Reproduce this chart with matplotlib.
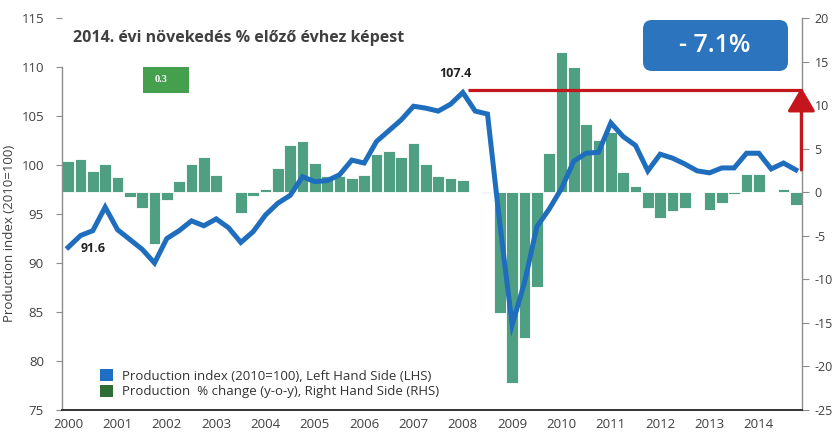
import matplotlib
matplotlib.use("Agg")
import matplotlib.pyplot as plt
from matplotlib.patches import FancyBboxPatch, Patch, FancyArrowPatch
from matplotlib.transforms import IdentityTransform

# ---------------- data ----------------
years = [str(y) for y in range(2000, 2015)]
quarters = [f"{y} Q{q}" for y in range(2000, 2015) for q in range(1, 5)]

production_index = [
    91.6, 92.8, 93.3, 95.7, 93.4, 92.4, 91.4, 90.0,
    92.5, 93.3, 94.3, 93.8, 94.5, 93.6, 92.1, 93.2,
    94.9, 96.1, 96.9, 98.8, 98.3, 98.4, 99.0, 100.5,
    100.2, 102.4, 103.5, 104.6, 106.0, 105.8, 105.5, 106.2,
    107.4, 105.5, 105.2, 94.0, 83.7, 88.0, 93.7, 95.5,
    97.6, 100.4, 101.2, 101.3, 104.3, 102.9, 102.0, 99.4,
    101.1, 100.7, 100.1, 99.4, 99.2, 99.7, 99.7, 101.2,
    101.2, 99.6, 100.2, 99.5,
]

yoy_change = [
    3.6, 3.8, 2.4, 3.2, 1.8, -0.5, -1.8, -5.9,
    -0.9, 1.3, 3.2, 4.1, 2.0, 0.0, -2.4, -0.4,
    0.4, 2.8, 5.4, 5.9, 3.4, 1.9, 1.9, 1.6,
    2.0, 4.4, 4.7, 4.0, 5.6, 3.2, 1.9, 1.6,
    1.4, 0.0, -0.1, -13.9, -21.9, -16.7, -10.9, 4.5,
    16.1, 14.4, 7.8, 6.0, 6.9, 2.3, 0.7, -1.8,
    -3.0, -2.2, -1.8, 0.0, -2.0, -1.2, -0.2, 2.1,
    2.1, 0.0, 0.4, -1.5,
]

title_text = "2014. évi növekedés % előző évhez képest"
box_text = "- 7.1%"
green_box_text = "0.3"
legend_labels = ["Production index (2010=100), Left Hand Side (LHS)",
                 "Production  % change (y-o-y), Right Hand Side (RHS)"]

# ---------------- style ----------------
plt.rcParams['font.family'] = ['Open Sans', 'DejaVu Sans']
plt.rcParams['axes.unicode_minus'] = False
txt_col = '#404040'
line_col = '#1F6EBE'
bar_col = '#4FA082'
red_col = '#C4161C'

W, H = 834, 437
fig = plt.figure(figsize=(W / 100, H / 100), dpi=100)

x0, x1 = 62, 802
y_top, y_bot = 18, 410
ax = fig.add_axes([x0 / W, 1 - y_bot / H, (x1 - x0) / W, (y_bot - y_top) / H])
ax2 = ax.twinx()

x = list(range(len(quarters)))

# bars (right axis)
ax2.bar(x, yoy_change, width=0.97, color=bar_col, edgecolor='white', linewidth=0.6, zorder=2)
ax2.set_ylim(-25, 20)
ax2.set_yticks(range(-25, 21, 5))

# line (left axis) on top
ax.set_zorder(ax2.get_zorder() + 1)
ax.patch.set_visible(False)
ax.plot(x, production_index, color=line_col, lw=3.6, solid_joinstyle='miter', zorder=3)
ax.set_ylim(75, 115)
ax.set_yticks(range(75, 116, 5))
ax.set_xlim(-0.5, len(quarters) - 0.5)
ax.set_xticks(range(0, len(quarters), 4))
ax.set_xticklabels(years)

# spines / ticks
for a in (ax, ax2):
    for s in a.spines.values():
        s.set_visible(False)
ax.spines['left'].set_visible(True)
ax.spines['left'].set_color('#8C8C8C')
ax.spines['left'].set_linewidth(1.0)
ax.spines['left'].set_bounds(75, 110)
ax.spines['bottom'].set_visible(True)
ax.spines['bottom'].set_color('#333333')
ax.spines['bottom'].set_linewidth(1.4)
ax2.spines['right'].set_visible(True)
ax2.spines['right'].set_color('#8C8C8C')
ax2.spines['right'].set_linewidth(1.0)

ax.tick_params(axis='y', direction='out', length=4, width=0.8, color='#8C8C8C',
               labelsize=9.5, labelcolor=txt_col, pad=9)
ax.tick_params(axis='x', length=0, labelsize=9.5, labelcolor=txt_col, pad=6)
ax2.tick_params(axis='y', direction='out', length=5, width=0.8, color='#8C8C8C',
                labelsize=9, labelcolor=txt_col, pad=4)

ax.set_ylabel("Production index (2010=100)", fontsize=9.5, color=txt_col)
ax.yaxis.set_label_coords((16 - x0) / (x1 - x0), 0.45)

# annotations
ax.annotate("91.6", xy=(0, production_index[0]), xytext=(9, -1), textcoords='offset points',
            fontsize=9, fontweight='bold', color='#222222', ha='left', va='center')
ax.annotate("107.4", xy=(32, production_index[32]), xytext=(-5, 14), textcoords='offset points',
            fontsize=9, fontweight='bold', color='#222222', ha='center', va='center')

# red reference line + arrow
ax.plot([32.45, 59.5], [107.7, 107.7], color=red_col, lw=2.3, clip_on=False, zorder=4,
        solid_capstyle='butt')
arr = FancyArrowPatch((59.45, production_index[-1]), (59.45, 107.9),
                      arrowstyle='-|>,head_length=1.45,head_width=0.85', mutation_scale=10,
                      color=red_col, lw=2.3, clip_on=False, zorder=5, shrinkA=0, shrinkB=0)
ax.add_patch(arr)

# title
fig.text(73 / W, 1 - 38 / H, title_text, fontsize=11.5, fontweight='bold', color=txt_col,
         ha='left', va='center')

# blue box
fig.add_artist(FancyBboxPatch((643, H - 71), 145, 51, boxstyle="round,pad=0,rounding_size=9",
                              transform=IdentityTransform(), facecolor='#2D74BE',
                              edgecolor='none'))
fig.text(715 / W, 1 - 46 / H, box_text, fontsize=18, fontweight='semibold', color='white',
         ha='center', va='center')

# green box
fig.add_artist(FancyBboxPatch((143, H - 93), 46, 26, boxstyle="square,pad=0",
                              transform=IdentityTransform(), facecolor='#45A04E',
                              edgecolor='none'))
fig.text(161 / W, 1 - 79 / H, green_box_text, fontsize=7.5, fontweight='bold',
         family=['Liberation Serif', 'DejaVu Serif'], color='white', ha='center', va='center')

# legend
handles = [Patch(facecolor='#1F6EC4', edgecolor='none'),
           Patch(facecolor='#2E6E36', edgecolor='none')]
leg = ax.legend(handles, legend_labels, loc='lower left', bbox_to_anchor=(0.035, 0.0),
                frameon=False, fontsize=9.5, handlelength=1.0, handleheight=1.0,
                handletextpad=0.7, labelspacing=0.15, labelcolor='#333333')

fig.savefig("out.png", dpi=100)
